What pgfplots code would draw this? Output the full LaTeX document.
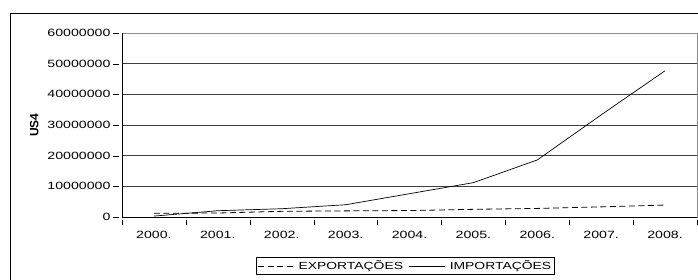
\documentclass[border=0pt]{standalone}
\usepackage{pgfplots}
\pgfplotsset{compat=1.18}
\usepackage{fontspec}
\setmainfont{Liberation Sans}[FakeStretch=1.35]
\begin{document}
\begin{tikzpicture}[x=1pt,y=1pt]
\useasboundingbox (0,0) rectangle (698,279);
\begin{scope}
\clip (0,0) rectangle (698,279);
\draw[line width=0.8pt] (10,-10) rectangle (720,266);
\end{scope}
\begin{axis}[
  at={(122pt,62pt)}, anchor=south west,
  scale only axis, width=575pt, height=184pt,
  xmin=-0.5, xmax=8.5, ymin=0, ymax=60000000,
  xtick={0,...,8},
  xticklabels={2000.,2001.,2002.,2003.,2004.,2005.,2006.,2007.,2008.},
  minor xtick={-0.5,0.5,...,8.5},
  major x tick style={draw=none},
  minor x tick style={black, yshift=-2.5pt},
  minor tick length=5pt,
  ytick={0,10000000,...,60000000},
  major tick length=6pt,
  y tick style={black, xshift=-3pt},
  tick align=outside,
  xtick pos=bottom, ytick pos=left,
  scaled y ticks=false,
  yticklabel={\pgfmathprintnumber[fixed,precision=0,1000 sep={}]{\tick}},
  /pgf/number format/assume math mode=true,
  tick label style={font=\fontsize{10.5}{12}\selectfont},
  xticklabel style={yshift=-5pt},
  yticklabel style={xshift=-2pt},
  ymajorgrids, grid style={black!75, line width=0.6pt},
  axis line style={black!45, line width=0.6pt},
  ylabel={\fontspec{Liberation Sans}[FakeStretch=1.0]\bfseries\fontsize{12}{12}\selectfont US4},
  ylabel style={yshift=2pt},
  legend columns=2,
  legend style={at={(rel axis cs:0.493,-0.217)}, anchor=north, draw=black, line width=0.6pt,
    font=\fontsize{10.3}{12}\selectfont, inner sep=1.5pt, column sep=2pt,
    /tikz/every even column/.append style={column sep=4pt}},
  legend image code/.code={\draw[#1] (0pt,0pt) -- (36pt,0pt);},
]
\addplot[black, line width=0.8pt, dash pattern=on 6pt off 3.5pt] coordinates {
(0,1200000) (1,1300000) (2,1850000) (3,2000000) (4,2100000) (5,2500000) (6,2800000) (7,3300000) (8,3900000)};
\addlegendentry{EXPORTAÇÕES}
\addplot[black, line width=0.7pt] coordinates {
(0,300000) (1,2050000) (2,2700000) (3,4000000) (4,7600000) (5,11200000) (6,18600000) (7,33300000) (8,47700000)};
\addlegendentry{IMPORTAÇÕES}
\draw[black, line width=0.8pt] (rel axis cs:0,1) -- (rel axis cs:0,0) -- (rel axis cs:1,0);
\end{axis}
\end{tikzpicture}
\end{document}
